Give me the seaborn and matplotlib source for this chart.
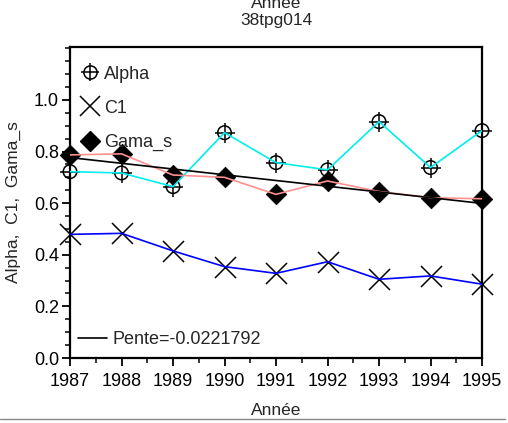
import numpy as np
import pandas as pd
import matplotlib
matplotlib.use("Agg")
import matplotlib.pyplot as plt
from matplotlib.lines import Line2D
from matplotlib.ticker import MultipleLocator
import seaborn as sns

years = [1987, 1988, 1989, 1990, 1991, 1992, 1993, 1994, 1995]
alpha = [0.722, 0.717, 0.664, 0.873, 0.757, 0.729, 0.916, 0.738, 0.881]
c1 = [0.479, 0.483, 0.415, 0.354, 0.328, 0.373, 0.305, 0.318, 0.286]
gama_s = [0.787, 0.791, 0.709, 0.700, 0.634, 0.686, 0.645, 0.621, 0.617]
slope_label = "Pente=-0.0221792"
title_top = "Année"
title_sub = "38tpg014"
xlabel = "Année"
ylabel = "Alpha,  C1,  Gama_s"

df = pd.DataFrame({"year": years, "Alpha": alpha, "C1": c1, "Gama_s": gama_s})

sns.set_style("ticks")
plt.rcParams["font.family"] = ["Liberation Sans", "DejaVu Sans"]

fig = plt.figure(figsize=(5.08, 4.23), dpi=100)
ax = fig.add_axes([70/508, 1 - 358/423, 412/508, (358-47)/423])

FS = 13

# markers first
sns.scatterplot(data=df, x="year", y="Gama_s", marker="D", s=110, color="black",
                edgecolor="black", linewidth=0.5, ax=ax, zorder=2, clip_on=False, legend=False)
sns.scatterplot(data=df, x="year", y="C1", marker="x", s=230, color="black",
                linewidth=1.1, ax=ax, zorder=2, clip_on=False, legend=False)
sns.scatterplot(data=df, x="year", y="Alpha", marker="o", s=95, facecolor="none",
                edgecolor="black", linewidth=1.1, ax=ax, zorder=2, clip_on=False, legend=False)
sns.scatterplot(data=df, x="year", y="Alpha", marker="+", s=190, color="black",
                linewidth=1.1, ax=ax, zorder=2, clip_on=False, legend=False)

# lines
sns.lineplot(data=df, x="year", y="Alpha", color="#00EEEE", linewidth=1.2, ax=ax, zorder=3)
sns.lineplot(data=df, x="year", y="C1", color="#0000FF", linewidth=1.2, ax=ax, zorder=3)
sns.lineplot(data=df, x="year", y="Gama_s", color="#FF9090", linewidth=1.2, ax=ax, zorder=3)
sns.regplot(data=df, x="year", y="Gama_s", scatter=False, ci=None, ax=ax,
            line_kws=dict(color="black", linewidth=1.2, zorder=3))

ax.set_xlim(1987, 1995)
ax.set_ylim(0, 1.205)
ax.set_xticks(years)
ax.set_xticklabels([str(y) for y in years], fontsize=FS)
ax.xaxis.set_minor_locator(MultipleLocator(0.5))
ax.set_yticks([0.0, 0.2, 0.4, 0.6, 0.8, 1.0])
ax.set_yticklabels(["0.0", "0.2", "0.4", "0.6", "0.8", "1.0"], fontsize=FS)
ax.yaxis.set_minor_locator(MultipleLocator(0.05))
ax.tick_params(axis="both", which="major", direction="out", length=6, width=1.3, pad=2, colors="black")
ax.tick_params(axis="both", which="minor", direction="out", length=3.5, width=1.3)
ax.tick_params(axis="x", which="major", pad=5)
for sp in ax.spines.values():
    sp.set_visible(True)
    sp.set_linewidth(1.6)
    sp.set_color("black")

ax.set_xlabel(xlabel, fontsize=FS - 0.5, labelpad=9)
ax.set_ylabel(ylabel, fontsize=FS - 0.5, labelpad=9)

fig.text(276/508, 1 - 4/423, title_top, ha="center", va="center", fontsize=FS - 0.5)
fig.text(276/508, 1 - 21/423, title_sub, ha="center", va="center", fontsize=FS - 0.5)

# legend 1
h_alpha = (Line2D([], [], marker="o", markersize=9.5, markerfacecolor="none", markeredgecolor="black",
                  markeredgewidth=1.1, linestyle="none"),
           Line2D([], [], marker="+", markersize=13.5, color="black", markeredgewidth=1.1, linestyle="none"))
h_c1 = Line2D([], [], marker="x", markersize=15, color="black", markeredgewidth=1.1, linestyle="none")
h_g = Line2D([], [], marker="D", markersize=10, color="black", linestyle="none")
leg1 = ax.legend([h_alpha, h_c1, h_g], ["Alpha", "C1", "Gama_s"], loc="upper left",
                 frameon=False, fontsize=FS, handlelength=1.0, handletextpad=0.3,
                 labelspacing=0.95, borderaxespad=0.2, bbox_to_anchor=(0.0, 0.975))
ax.add_artist(leg1)
h_line = Line2D([], [], color="black", linewidth=1.2)
ax.legend([h_line], [slope_label], loc="lower left", frameon=False, fontsize=FS,
          handlelength=1.6, handletextpad=0.3, borderaxespad=0.3, bbox_to_anchor=(-0.012, -0.008))

# bottom separator line
fig.add_artist(Line2D([0, 505/508], [1 - 419/423, 1 - 419/423], color="#888888", linewidth=1.0,
                      transform=fig.transFigure))

fig.savefig("out.png", dpi=100)
